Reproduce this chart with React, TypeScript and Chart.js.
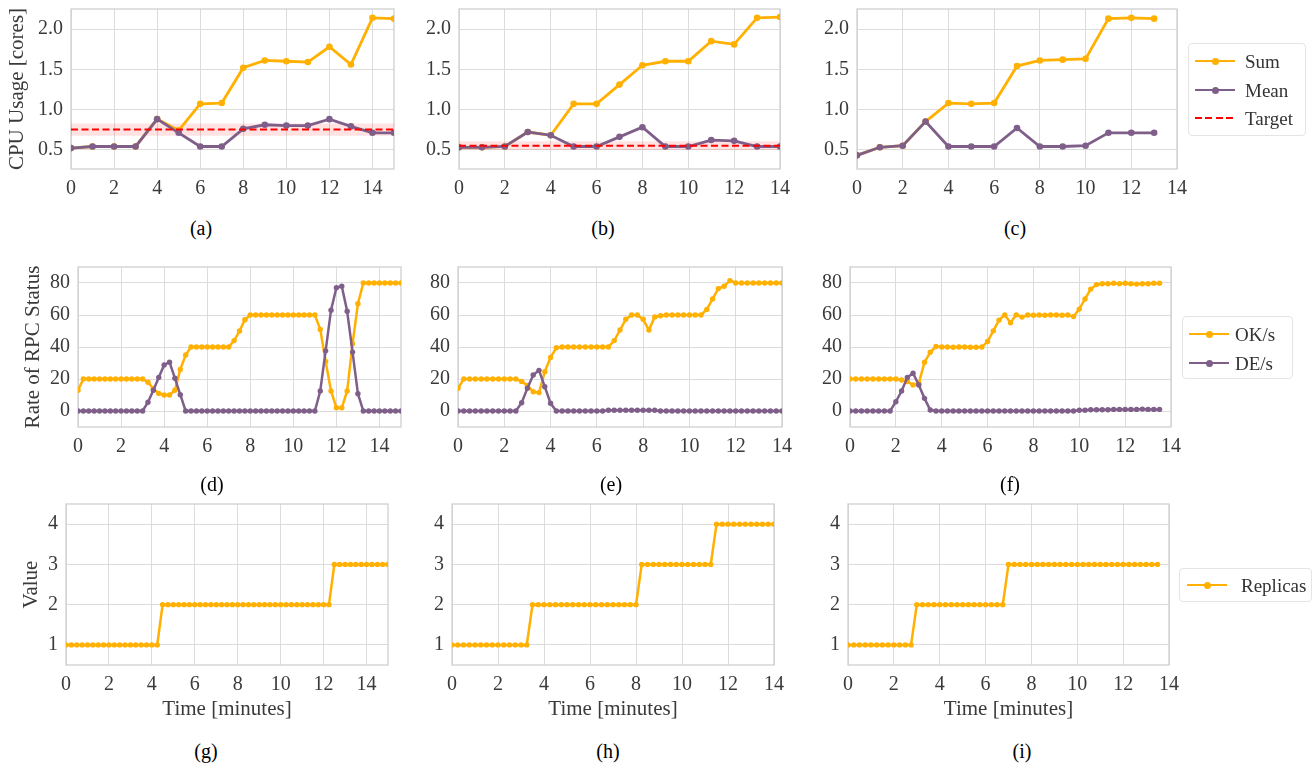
import React, { useEffect, useRef } from 'react';
import { Chart, registerables } from 'chart.js';

Chart.register(...registerables);

const ORANGE = '#FFB000';
const PURPLE = '#7F5F8A';
const RED = '#FF0000';
const GRID = '#dcdcdc';
const FRAME = '#d0d0d0';
const TEXT = '#3a3a3a';
const FONT = '"Liberation Serif", "Times New Roman", serif';

Chart.defaults.font.family = FONT;

// ---------- Row 1: CPU usage (one sample per minute) ----------
const minutes15 = [0, 1, 2, 3, 4, 5, 6, 7, 8, 9, 10, 11, 12, 13, 14, 15];
const minutes14 = [0, 1, 2, 3, 4, 5, 6, 7, 8, 9, 10, 11, 12, 13, 14];
const minutes13 = [0, 1, 2, 3, 4, 5, 6, 7, 8, 9, 10, 11, 12, 13];

const sumA = [0.52, 0.54, 0.54, 0.54, 0.88, 0.74, 1.07, 1.08, 1.52, 1.61, 1.6, 1.59, 1.78, 1.56, 2.14, 2.13];
const meanA = [0.52, 0.54, 0.54, 0.54, 0.88, 0.71, 0.54, 0.54, 0.76, 0.81, 0.8, 0.8, 0.88, 0.79, 0.71, 0.71];
const targetA = 0.75;

const sumB = [0.53, 0.53, 0.54, 0.72, 0.68, 1.07, 1.07, 1.31, 1.55, 1.6, 1.6, 1.85, 1.81, 2.14, 2.15];
const meanB = [0.53, 0.53, 0.54, 0.72, 0.68, 0.54, 0.54, 0.66, 0.78, 0.54, 0.54, 0.62, 0.61, 0.54, 0.54];
const targetB = 0.55;

const sumC = [0.43, 0.53, 0.55, 0.85, 1.08, 1.07, 1.08, 1.54, 1.61, 1.62, 1.63, 2.13, 2.14, 2.13];
const meanC = [0.43, 0.53, 0.55, 0.85, 0.54, 0.54, 0.54, 0.77, 0.54, 0.54, 0.55, 0.71, 0.71, 0.71];

// ---------- Row 2: RPC status rates (one sample per 15 s) ----------
const quarterMinutes = (count: number) => Array.from({ length: count }, (_, i) => i / 4);
const timesD = quarterMinutes(61); // 0 .. 15
const timesE = quarterMinutes(57); // 0 .. 14
const timesF = quarterMinutes(55); // 0 .. 13.5

const okD = [13, 20, 20, 20, 20, 20, 20, 20, 20, 20, 20, 20, 20,
  18, 14, 11, 10, 10, 13, 26, 35, 40,
  40, 40, 40, 40, 40, 40, 40,
  44, 50, 57, 60,
  60, 60, 60, 60, 60, 60, 60, 60, 60, 60, 60, 60,
  51, 31, 12.5, 2, 2, 12.5, 42, 67, 80,
  80, 80, 80, 80, 80, 80, 80];
const deD = [0, 0, 0, 0, 0, 0, 0, 0, 0, 0, 0, 0, 0,
  5.5, 13, 21, 28.8, 30.5, 20.5, 10.2, 0,
  0, 0, 0, 0, 0, 0, 0, 0, 0, 0, 0, 0, 0, 0, 0, 0, 0, 0, 0, 0, 0, 0, 0, 0,
  12.5, 37.6, 63, 77, 78, 62.3, 36.8, 10.8,
  0, 0, 0, 0, 0, 0, 0, 0];

const okE = [14.2, 20, 20, 20, 20, 20, 20, 20, 20, 20, 20,
  18.5, 16, 12, 11.5, 24.5, 33.5, 39.5,
  40, 40, 40, 40, 40, 40, 40, 40, 40,
  44, 50.6, 57.3, 60, 60, 57.3, 50.6, 58.8, 59.5,
  60, 60, 60, 60, 60, 60, 60,
  63.5, 70, 76.5, 78, 81.5, 80,
  80, 80, 80, 80, 80, 80, 80, 80];
const deE = [0, 0, 0, 0, 0, 0, 0, 0, 0, 0, 0,
  5.2, 14.2, 22.5, 25.4, 15.2, 4.8, 0,
  0, 0, 0, 0, 0, 0, 0, 0,
  0.5, 0.5, 0.5, 0.5, 0.5, 0.5, 0.5, 0.5, 0.5,
  0, 0, 0, 0, 0, 0, 0, 0, 0, 0, 0, 0, 0, 0, 0, 0, 0, 0, 0, 0, 0, 0];

const okF = [20, 20, 20, 20, 20, 20, 20, 20, 20,
  19.4, 18.4, 16.3, 17.3, 30.5, 36.7, 40.3,
  40, 40, 39.8, 40, 40, 39.8, 39.8, 40,
  43.4, 50.1, 56.8, 60.1, 55.1, 60.1, 58.7,
  60, 59.8, 60, 59.8, 60, 60, 59.8, 60,
  59, 63.7, 70, 76.2, 79,
  79.5, 79.5, 79.8, 79.5, 79.8, 79.5, 79.3, 79.5, 79.5, 79.8, 79.8];
const deF = [0, 0, 0, 0, 0, 0, 0, 0,
  5.8, 12.5, 20.9, 23.6, 16.3, 7.9, 0.6,
  0, 0, 0, 0, 0, 0, 0, 0, 0, 0, 0, 0, 0, 0, 0, 0, 0, 0, 0, 0, 0, 0, 0, 0, 0,
  0.5, 0.5, 0.8, 0.8, 0.8, 0.8, 1, 1, 1, 1, 1, 1.2, 1, 1, 1];

// ---------- Row 3: replicas ----------
const replicasG = [1, 1, 1, 1, 1, 1, 1, 1, 1, 1, 1, 1, 1, 1, 1, 1, 1, 1,
  2, 2, 2, 2, 2, 2, 2, 2, 2, 2, 2, 2, 2, 2, 2, 2, 2, 2, 2, 2, 2, 2, 2, 2, 2, 2, 2, 2, 2, 2, 2, 2,
  3, 3, 3, 3, 3, 3, 3, 3, 3, 3, 3];
const replicasH = [1, 1, 1, 1, 1, 1, 1, 1, 1, 1, 1, 1, 1, 1,
  2, 2, 2, 2, 2, 2, 2, 2, 2, 2, 2, 2, 2, 2, 2, 2, 2, 2, 2,
  3, 3, 3, 3, 3, 3, 3, 3, 3, 3, 3, 3, 3,
  4, 4, 4, 4, 4, 4, 4, 4, 4, 4, 4];
const replicasI = [1, 1, 1, 1, 1, 1, 1, 1, 1, 1, 1, 1,
  2, 2, 2, 2, 2, 2, 2, 2, 2, 2, 2, 2, 2, 2, 2, 2,
  3, 3, 3, 3, 3, 3, 3, 3, 3, 3, 3, 3, 3, 3, 3, 3, 3, 3, 3, 3, 3, 3, 3, 3, 3, 3, 3];

// ---------- Tick labels ----------
const xTicks = [0, 2, 4, 6, 8, 10, 12, 14];
const cpuTicks = [0.5, 1.0, 1.5, 2.0];
const rpcTicks = [0, 20, 40, 60, 80];
const replicaTicks = [1, 2, 3, 4];

// ---------- dataset helpers ----------
function series(label: string, xs: number[], ys: number[], color: string, r: number, order: number, width: number) {
  return {
    label,
    data: xs.map((x, i) => ({ x, y: ys[i] })),
    borderColor: color,
    backgroundColor: color,
    borderWidth: width,
    pointRadius: r,
    pointBackgroundColor: color,
    pointBorderWidth: 0,
    pointHoverRadius: r,
    fill: false,
    tension: 0,
    order,
  };
}

function targetSets(target: number, xMax: number) {
  const span = [0, xMax];
  return [
    {
      label: 'Target',
      data: span.map((x) => ({ x, y: target })),
      borderColor: RED,
      borderWidth: 2,
      borderDash: [7, 3.5],
      pointRadius: 0,
      fill: false,
      order: 0,
    },
    {
      label: 'band-low',
      data: span.map((x) => ({ x, y: target * 0.9 })),
      borderWidth: 0,
      borderColor: 'rgba(0,0,0,0)',
      pointRadius: 0,
      fill: false,
      order: 9,
    },
    {
      label: 'band-high',
      data: span.map((x) => ({ x, y: target * 1.1 })),
      borderWidth: 0,
      borderColor: 'rgba(0,0,0,0)',
      backgroundColor: 'rgba(255,0,0,0.11)',
      pointRadius: 0,
      fill: '-1',
      order: 9,
    },
  ];
}

const framePlugin = {
  id: 'frame',
  beforeDatasetsDraw(chart: any) {
    const { ctx, chartArea: a } = chart;
    ctx.save();
    ctx.strokeStyle = FRAME;
    ctx.lineWidth = 1.3;
    ctx.strokeRect(a.left, a.top, a.right - a.left, a.bottom - a.top);
    ctx.restore();
  },
};

type Panel = {
  key: string;
  left: number;
  top: number;
  width: number;
  height: number;
  yW: number;
  xH: number;
  padTop: number;
  padRight: number;
  xMax: number;
  yMin: number;
  yMax: number;
  yTicks: number[];
  yDigits: number;
  yTitle?: string;
  xTitle?: string;
  datasets: any[];
};

function fixSize(size: number, horizontal: boolean) {
  return (s: any) => {
    if (horizontal) s.height = size;
    else s.width = size;
    s.paddingLeft = 0;
    s.paddingRight = 0;
    s.paddingTop = 0;
    s.paddingBottom = 0;
  };
}

function buildConfig(p: Panel): any {
  const tickFont = { family: FONT, size: 20 };
  const titleFont = { family: FONT, size: 21 };
  return {
    type: 'line',
    data: { datasets: p.datasets },
    options: {
      animation: false,
      responsive: false,
      devicePixelRatio: 1,
      events: [],
      layout: { padding: { left: 0, right: p.padRight, top: p.padTop, bottom: 0 } },
      plugins: { legend: { display: false }, tooltip: { enabled: false }, title: { display: false } },
      scales: {
        x: {
          type: 'linear',
          min: 0,
          max: p.xMax,
          afterBuildTicks: (s: any) => {
            s.ticks = xTicks.map((v) => ({ value: v }));
          },
          afterFit: fixSize(p.xH, true),
          grid: { color: GRID, lineWidth: 1, drawTicks: false },
          border: { display: false },
          ticks: {
            font: tickFont,
            color: TEXT,
            padding: 8,
            maxRotation: 0,
            autoSkip: false,
            callback: (v: any) => String(v),
          },
          title: p.xTitle
            ? { display: true, text: p.xTitle, font: titleFont, color: TEXT, padding: { top: 4, bottom: 4 } }
            : { display: false },
        },
        y: {
          type: 'linear',
          min: p.yMin,
          max: p.yMax,
          afterBuildTicks: (s: any) => {
            s.ticks = p.yTicks.map((v) => ({ value: v }));
          },
          afterFit: fixSize(p.yW, false),
          grid: { color: GRID, lineWidth: 1, drawTicks: false },
          border: { display: false },
          ticks: {
            font: tickFont,
            color: TEXT,
            padding: 8,
            autoSkip: false,
            callback: (v: any) => Number(v).toFixed(p.yDigits),
          },
          title: p.yTitle
            ? { display: true, text: p.yTitle, font: titleFont, color: TEXT, padding: { top: 4, bottom: 4 } }
            : { display: false },
        },
      },
    },
    plugins: [framePlugin],
  };
}

function ChartPanel({ p }: { p: Panel }) {
  const ref = useRef<HTMLCanvasElement | null>(null);
  useEffect(() => {
    if (!ref.current) return;
    const chart = new Chart(ref.current, buildConfig(p));
    return () => chart.destroy();
  }, []);
  return (
    <canvas
      ref={ref}
      width={p.width}
      height={p.height}
      style={{ position: 'absolute', left: p.left, top: p.top, width: p.width, height: p.height }}
    />
  );
}

const R1 = 3.3;
const R2 = 2.7;
const LW1 = 2.8;
const LW2 = 2.5;

const row1 = { top: 0, height: 204, padTop: 9, xH: 35, yMin: 0.26, yMax: 2.25, yTicks: cpuTicks, yDigits: 1 };
const row2 = { top: 255, height: 207, padTop: 12, xH: 35, yMin: -10, yMax: 90, yTicks: rpcTicks, yDigits: 0 };
const row3 = { top: 492, height: 234, padTop: 12, xH: 61, yMin: 0.5, yMax: 4.5, yTicks: replicaTicks, yDigits: 0, xTitle: 'Time [minutes]' };

const panels: Panel[] = [
  {
    key: 'a', ...row1, left: 1, width: 401, yW: 70, padRight: 8, xMax: 15, yTitle: 'CPU Usage [cores]',
    datasets: [
      series('Mean', minutes15, meanA, PURPLE, R1, 1, LW1),
      series('Sum', minutes15, sumA, ORANGE, R1, 2, LW1),
      ...targetSets(targetA, 15),
    ],
  },
  {
    key: 'b', ...row1, left: 409, width: 383, yW: 50, padRight: 12, xMax: 14,
    datasets: [
      series('Mean', minutes14, meanB, PURPLE, R1, 1, LW1),
      series('Sum', minutes14, sumB, ORANGE, R1, 2, LW1),
      ...targetSets(targetB, 14),
    ],
  },
  {
    key: 'c', ...row1, left: 807, width: 382, yW: 50, padRight: 12, xMax: 14,
    datasets: [
      series('Mean', minutes13, meanC, PURPLE, R1, 1, LW1),
      series('Sum', minutes13, sumC, ORANGE, R1, 2, LW1),
    ],
  },
  {
    key: 'd', ...row2, left: 17, width: 392, yW: 61, padRight: 8, xMax: 15, yTitle: 'Rate of RPC Status',
    datasets: [
      series('DE/s', timesD, deD, PURPLE, R2, 1, LW2),
      series('OK/s', timesD, okD, ORANGE, R2, 2, LW2),
    ],
  },
  {
    key: 'e', ...row2, left: 408, width: 386, yW: 50, padRight: 12, xMax: 14,
    datasets: [
      series('DE/s', timesE, deE, PURPLE, R2, 1, LW2),
      series('OK/s', timesE, okE, ORANGE, R2, 2, LW2),
    ],
  },
  {
    key: 'f', ...row2, left: 800, width: 383, yW: 50, padRight: 12, xMax: 14,
    datasets: [
      series('DE/s', timesF, deF, PURPLE, R2, 1, LW2),
      series('OK/s', timesF, okF, ORANGE, R2, 2, LW2),
    ],
  },
  {
    key: 'g', ...row3, left: 15, width: 383, yW: 51, padRight: 10, xMax: 15, yTitle: 'Value',
    datasets: [series('Replicas', timesD, replicasG, ORANGE, R2, 1, LW2)],
  },
  {
    key: 'h', ...row3, left: 402, width: 384, yW: 50, padRight: 12, xMax: 14,
    datasets: [series('Replicas', timesE, replicasH, ORANGE, R2, 1, LW2)],
  },
  {
    key: 'i', ...row3, left: 798, width: 383, yW: 50, padRight: 12, xMax: 14,
    datasets: [series('Replicas', timesF, replicasI, ORANGE, R2, 1, LW2)],
  },
];

const captions = [
  { text: '(a)', x: 201, y: 228 },
  { text: '(b)', x: 603, y: 228 },
  { text: '(c)', x: 1015, y: 228 },
  { text: '(d)', x: 212, y: 484 },
  { text: '(e)', x: 611, y: 484 },
  { text: '(f)', x: 1010, y: 484 },
  { text: '(g)', x: 206, y: 751 },
  { text: '(h)', x: 608, y: 751 },
  { text: '(i)', x: 1022, y: 751 },
];

type LegendItem = { label: string; color: string; dashed?: boolean; y: number };
type LegendSpec = { left: number; top: number; width: number; height: number; lineX: number; textX: number; items: LegendItem[] };

const legends: LegendSpec[] = [
  {
    left: 1188, top: 43, width: 118, height: 93, lineX: 6, textX: 56,
    items: [
      { label: 'Sum', color: ORANGE, y: 17 },
      { label: 'Mean', color: PURPLE, y: 46 },
      { label: 'Target', color: RED, dashed: true, y: 74 },
    ],
  },
  {
    left: 1182, top: 316, width: 111, height: 63, lineX: 6, textX: 52,
    items: [
      { label: 'OK/s', color: ORANGE, y: 17 },
      { label: 'DE/s', color: PURPLE, y: 46 },
    ],
  },
  {
    left: 1179, top: 568, width: 133, height: 34, lineX: 7, textX: 61,
    items: [{ label: 'Replicas', color: ORANGE, y: 16 }],
  },
];

function Legend({ spec }: { spec: LegendSpec }) {
  return (
    <div
      style={{
        position: 'absolute',
        left: spec.left,
        top: spec.top,
        width: spec.width,
        height: spec.height,
        boxSizing: 'border-box',
        border: '1px solid #e4e4e4',
        borderRadius: 4,
        background: 'rgba(255,255,255,0.85)',
      }}
    >
      {spec.items.map((it) => (
        <React.Fragment key={it.label}>
          {it.dashed ? (
            <div
              style={{
                position: 'absolute',
                left: spec.lineX,
                top: it.y - 1,
                width: 40,
                height: 2,
                background: `repeating-linear-gradient(to right, ${it.color} 0px, ${it.color} 7px, transparent 7px, transparent 10.5px)`,
              }}
            />
          ) : (
            <>
              <div
                style={{
                  position: 'absolute',
                  left: spec.lineX,
                  top: it.y - 1.4,
                  width: 40,
                  height: 2.8,
                  background: it.color,
                }}
              />
              <div
                style={{
                  position: 'absolute',
                  left: spec.lineX + 20 - 3.5,
                  top: it.y - 3.5,
                  width: 7,
                  height: 7,
                  borderRadius: '50%',
                  background: it.color,
                }}
              />
            </>
          )}
          <div
            style={{
              position: 'absolute',
              left: spec.textX,
              top: it.y,
              transform: 'translateY(-50%)',
              fontFamily: FONT,
              fontSize: 19,
              lineHeight: 1,
              color: '#333',
              whiteSpace: 'nowrap',
            }}
          >
            {it.label}
          </div>
        </React.Fragment>
      ))}
    </div>
  );
}

export default function App() {
  return (
    <div
      style={{
        position: 'absolute',
        left: 0,
        top: 0,
        width: 1315,
        height: 763,
        background: '#fff',
        overflow: 'hidden',
      }}
    >
      {panels.map((p) => (
        <ChartPanel key={p.key} p={p} />
      ))}
      {captions.map((c) => (
        <div
          key={c.text}
          style={{
            position: 'absolute',
            left: c.x,
            top: c.y,
            transform: 'translate(-50%, -50%)',
            fontFamily: FONT,
            fontSize: 20,
            lineHeight: 1,
            color: '#000',
            whiteSpace: 'nowrap',
          }}
        >
          {c.text}
        </div>
      ))}
      {legends.map((l, i) => (
        <Legend key={i} spec={l} />
      ))}
    </div>
  );
}
